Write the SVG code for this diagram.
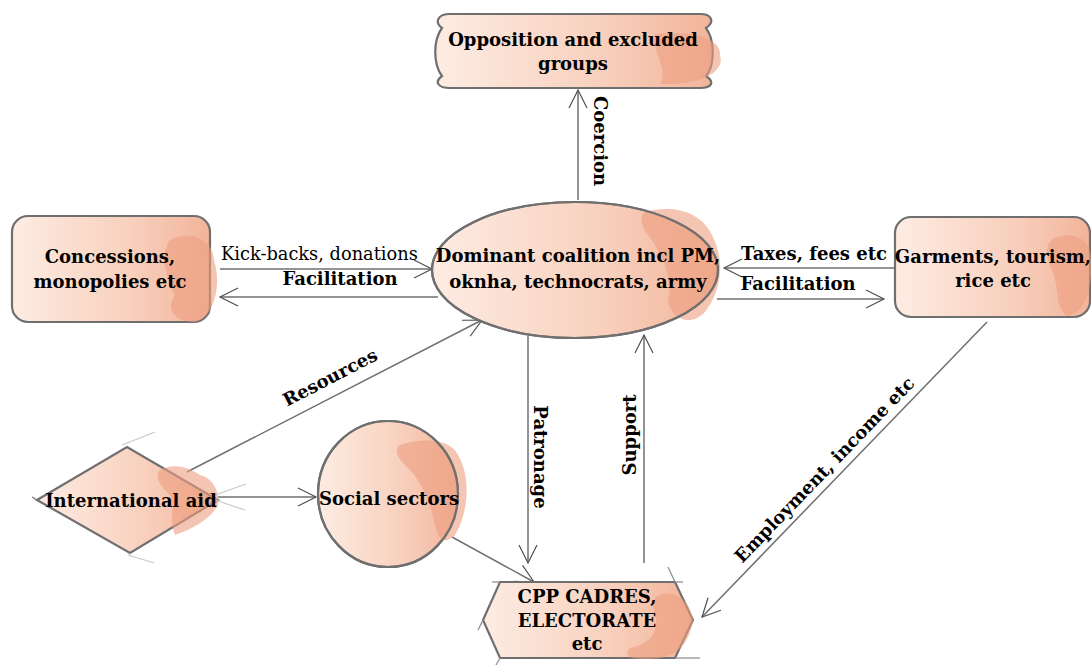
<svg xmlns="http://www.w3.org/2000/svg" width="1091" height="665" viewBox="0 0 1091 665">
<style>
.shape{fill:url(#g);stroke:#6f6f6f;stroke-width:2.2}
.blob{fill:#ec9e80;opacity:0.6}
.conn{stroke:#707070;stroke-width:1.5;fill:none}
.t{font-family:"DejaVu Serif","Liberation Serif",serif;font-weight:bold;font-size:18px;fill:#000;text-anchor:middle}
.n{font-family:"DejaVu Serif","Liberation Serif",serif;font-size:17.8px;fill:#000}
.stub{stroke:#8a8a8a;stroke-width:1.2}
</style>
<defs>
<linearGradient id="g" x1="0" y1="0" x2="1" y2="0">
<stop offset="0" stop-color="#fdece3"/>
<stop offset="0.6" stop-color="#f8d0bd"/>
<stop offset="1" stop-color="#f2b49a"/>
</linearGradient>
<marker id="a" markerUnits="userSpaceOnUse" markerWidth="24" markerHeight="24" viewBox="-1 -12 22 24" refX="18" refY="0" orient="auto">
<path d="M0,-9 L18,0 L0,9" fill="none" stroke="#505050" stroke-width="1.2"/>
</marker>
</defs>

<g id="connectors">
<line class="conn" x1="578" y1="200" x2="578" y2="90" marker-end="url(#a)"/>
<line class="conn" x1="220" y1="269" x2="432" y2="269" marker-end="url(#a)"/>
<line class="conn" x1="438" y1="297" x2="220" y2="297" marker-end="url(#a)"/>
<line class="conn" x1="895" y1="268" x2="724" y2="268" marker-end="url(#a)"/>
<line class="conn" x1="717" y1="299" x2="884" y2="299" marker-end="url(#a)"/>
<line class="conn" x1="187" y1="472" x2="482" y2="320" marker-end="url(#a)"/>
<line class="conn" x1="218" y1="497" x2="316" y2="497" marker-end="url(#a)"/>
<line class="conn" x1="452" y1="537" x2="534" y2="582" marker-end="url(#a)"/>
<line class="conn" x1="528" y1="336" x2="528" y2="563" marker-end="url(#a)"/>
<line class="conn" x1="644" y1="563" x2="644" y2="335" marker-end="url(#a)"/>
<line class="conn" x1="987" y1="322" x2="702" y2="617" marker-end="url(#a)"/>
</g>

<g id="opposition">
<path class="shape" d="M450,14 L700,14 C712,14 715,22 706,28 C715,40 715,66 706,76 C715,82 712,88 700,88 L450,88 C438,88 434,82 442,76 C433,64 433,40 442,28 C434,22 438,14 450,14 Z"/>
<path class="blob" d="M655,34 C690,30 722,38 720,55 C726,72 700,86 660,84 C670,70 650,50 655,34 Z"/>
<text class="t" x="573" y="46">Opposition and excluded</text>
<text class="t" x="573" y="70">groups</text>
</g>

<g id="concessions">
<rect class="shape" x="12" y="216" width="198" height="106" rx="16"/>
<path class="blob" d="M170,240 C190,230 212,238 214,260 C222,285 214,318 195,322 C175,322 165,310 175,295 C165,275 160,255 170,240 Z"/>
<text class="t" x="110" y="263">Concessions,</text>
<text class="t" x="110" y="288">monopolies etc</text>
</g>

<g id="dominant">
<ellipse class="shape" cx="575" cy="270" rx="143" ry="68"/>
<path class="blob" d="M645,212 C670,205 700,210 712,235 C725,260 722,290 705,312 C690,328 670,318 668,300 C675,280 660,250 648,235 C640,225 640,215 645,212 Z"/>
<ellipse cx="575" cy="270" rx="143" ry="68" fill="none" stroke="#6f6f6f" stroke-width="2.2"/>
<text class="t" x="578" y="262">Dominant coalition incl PM,</text>
<text class="t" x="578" y="288">oknha, technocrats, army</text>
</g>

<g id="garments">
<rect class="shape" x="895" y="217" width="195" height="100" rx="16"/>
<path class="blob" d="M1055,238 C1075,230 1092,240 1091,262 C1092,290 1085,312 1068,316 C1055,310 1060,290 1052,270 C1045,255 1045,242 1055,238 Z"/>
<text class="t" x="993" y="263">Garments, tourism,</text>
<text class="t" x="993" y="287">rice etc</text>
</g>

<g id="aid">
<path class="shape" d="M37,500 L127,447 L218,500 L130,553 Z"/>
<path class="blob" d="M160,470 C175,462 190,468 200,475 C212,478 220,490 218,505 C210,520 190,530 175,535 C168,520 178,500 165,490 C158,482 155,475 160,470 Z"/>
<line x1="122" y1="445" x2="155" y2="432" stroke="#c8c8c8" stroke-width="1.2"/>
<line x1="212" y1="496" x2="246" y2="484" stroke="#c8c8c8" stroke-width="1.2"/>
<line x1="215" y1="500" x2="245" y2="510" stroke="#c8c8c8" stroke-width="1.2"/>
<line x1="128" y1="555" x2="154" y2="563" stroke="#c8c8c8" stroke-width="1.2"/>
<line x1="32" y1="497" x2="42" y2="503" stroke="#6f6f6f" stroke-width="1.2"/>
<text class="t" x="131" y="507">International aid</text>
</g>

<g id="social">
<ellipse class="shape" cx="388" cy="494" rx="70" ry="73"/>
<path class="blob" d="M400,445 C420,438 450,438 458,455 C470,475 470,510 455,535 C445,545 438,540 435,525 C430,500 420,478 405,465 C395,455 395,448 400,445 Z"/>
<ellipse cx="388" cy="494" rx="70" ry="73" fill="none" stroke="#6f6f6f" stroke-width="2.2"/>
<text class="t" x="389" y="505">Social sectors</text>
</g>

<g id="cpp">
<path class="shape" d="M500,582 L675,582 L693,620 L675,658 L500,658 L483,620 Z"/>
<path class="blob" d="M660,595 C675,590 690,600 693,620 C690,640 680,655 660,658 C640,660 620,660 630,648 C650,645 660,630 655,615 C652,605 652,598 660,595 Z"/>
<line class="stub" x1="500" y1="582" x2="492" y2="582"/>
<line class="stub" x1="675" y1="582" x2="683" y2="582"/>
<line class="stub" x1="675" y1="582" x2="668" y2="567"/>
<line class="stub" x1="483" y1="620" x2="478" y2="630"/>
<line class="stub" x1="500" y1="658" x2="496" y2="665"/>
<line class="stub" x1="675" y1="658" x2="700" y2="658"/>
<text class="t" x="587" y="603">CPP CADRES,</text>
<text class="t" x="587" y="627">ELECTORATE</text>
<text class="t" x="587" y="650">etc</text>
</g>

<g id="labels">
<text class="t" transform="translate(594,141) rotate(90)">Coercion</text>
<text class="n" x="221" y="260">Kick-backs, donations</text>
<text class="t" x="340" y="285">Facilitation</text>
<text class="t" x="814" y="260">Taxes, fees etc</text>
<text class="t" x="798" y="290">Facilitation</text>
<text class="t" transform="translate(333,383) rotate(-27.4)">Resources</text>
<text class="t" transform="translate(534,457) rotate(90)">Patronage</text>
<text class="t" transform="translate(636,435) rotate(-90)">Support</text>
<text class="t" transform="translate(829,474) rotate(-46)">Employment, income etc</text>
</g>
</svg>
